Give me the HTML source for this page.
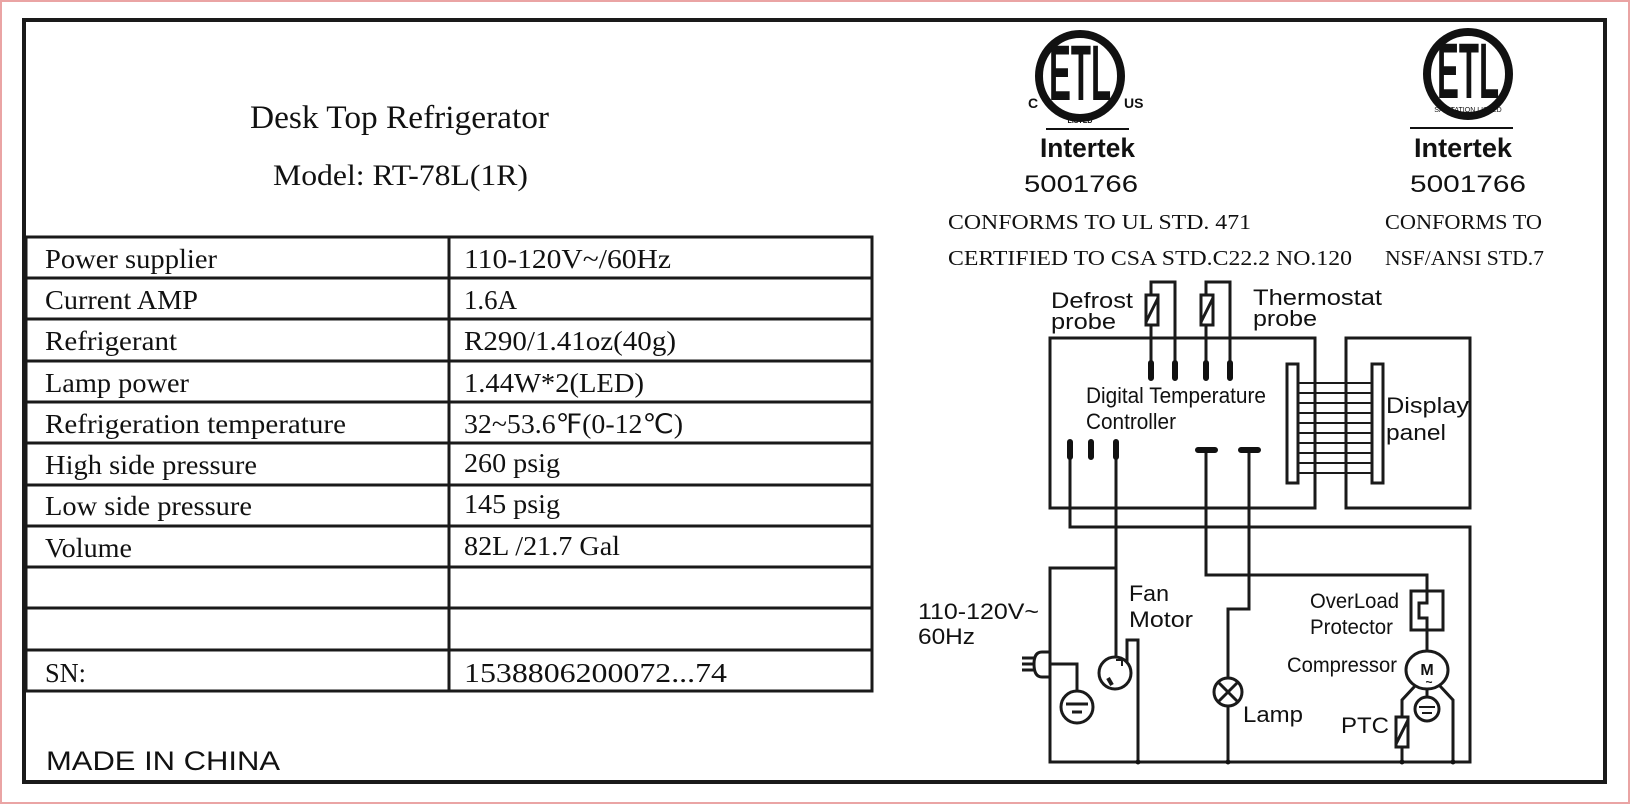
<!DOCTYPE html>
<html><head><meta charset="utf-8"><style>
html,body{margin:0;padding:0;background:#fff;}
svg{display:block;}
.s{font-family:"Liberation Serif",serif;fill:#111;}
.a{font-family:"Liberation Sans",sans-serif;fill:#111;}
</style></head><body>
<svg width="1630" height="804" viewBox="0 0 1630 804" xmlns="http://www.w3.org/2000/svg">
<rect x="1" y="1" width="1628" height="802" fill="#fff" stroke="#eaa4a4" stroke-width="2"/>
<rect x="24" y="20" width="1581" height="762" fill="none" stroke="#1a1a1a" stroke-width="4"/>

<text class="s" x="250" y="128" font-size="33" textLength="299" lengthAdjust="spacingAndGlyphs">Desk Top Refrigerator</text>
<text class="s" x="273" y="185" font-size="30" textLength="255" lengthAdjust="spacingAndGlyphs">Model: RT-78L(1R)</text>

<g stroke="#1a1a1a" stroke-width="3" fill="none">
<rect x="26" y="237" width="846" height="454"/>
<line x1="449" y1="237" x2="449" y2="691"/>
<line x1="26" y1="278" x2="872" y2="278"/>
<line x1="26" y1="319" x2="872" y2="319"/>
<line x1="26" y1="361" x2="872" y2="361"/>
<line x1="26" y1="402" x2="872" y2="402"/>
<line x1="26" y1="443" x2="872" y2="443"/>
<line x1="26" y1="485" x2="872" y2="485"/>
<line x1="26" y1="526" x2="872" y2="526"/>
<line x1="26" y1="567" x2="872" y2="567"/>
<line x1="26" y1="608" x2="872" y2="608"/>
<line x1="26" y1="650" x2="872" y2="650"/>
</g>
<g class="s" font-size="27">
<text x="45" y="268" textLength="172" lengthAdjust="spacingAndGlyphs">Power supplier</text>
<text x="464" y="268" textLength="207" lengthAdjust="spacingAndGlyphs">110-120V~/60Hz</text>
<text x="45" y="309" textLength="153" lengthAdjust="spacingAndGlyphs">Current AMP</text>
<text x="464" y="309" textLength="53" lengthAdjust="spacingAndGlyphs">1.6A</text>
<text x="45" y="350" textLength="132" lengthAdjust="spacingAndGlyphs">Refrigerant</text>
<text x="464" y="350" textLength="212" lengthAdjust="spacingAndGlyphs">R290/1.41oz(40g)</text>
<text x="45" y="392" textLength="144" lengthAdjust="spacingAndGlyphs">Lamp power</text>
<text x="464" y="392" textLength="180" lengthAdjust="spacingAndGlyphs">1.44W*2(LED)</text>
<text x="45" y="433" textLength="301" lengthAdjust="spacingAndGlyphs">Refrigeration temperature</text>
<text x="464" y="433" textLength="219" lengthAdjust="spacingAndGlyphs">32~53.6℉(0-12℃)</text>
<text x="45" y="474" textLength="212" lengthAdjust="spacingAndGlyphs">High side pressure</text>
<text x="464" y="472" textLength="96" lengthAdjust="spacingAndGlyphs">260 psig</text>
<text x="45" y="515" textLength="207" lengthAdjust="spacingAndGlyphs">Low side pressure</text>
<text x="464" y="513" textLength="96" lengthAdjust="spacingAndGlyphs">145 psig</text>
<text x="45" y="557" textLength="87" lengthAdjust="spacingAndGlyphs">Volume</text>
<text x="464" y="555" textLength="156" lengthAdjust="spacingAndGlyphs">82L /21.7 Gal</text>
<text x="45" y="682" textLength="41" lengthAdjust="spacingAndGlyphs">SN:</text>
<text x="464" y="682" textLength="263" lengthAdjust="spacingAndGlyphs">1538806200072...74</text>
</g>
<text class="a" x="46" y="770" font-size="27" textLength="234" lengthAdjust="spacingAndGlyphs">MADE IN CHINA</text>

<!-- Logo 1 -->
<g>
<ellipse cx="1080" cy="76" rx="41" ry="42" fill="none" stroke="#111" stroke-width="8"/>
<text x="1080" y="100" text-anchor="middle" font-family="Liberation Sans" font-weight="bold" font-size="44" fill="#111" transform="matrix(1 0 0 1.8 0 -80)" textLength="62" lengthAdjust="spacingAndGlyphs">ETL</text>
<text x="1028" y="108" font-family="Liberation Sans" font-weight="bold" font-size="14" fill="#111">C</text>
<text x="1124" y="108" font-family="Liberation Sans" font-weight="bold" font-size="14" fill="#111">US</text>
<text x="1080" y="123" text-anchor="middle" font-family="Liberation Sans" font-weight="bold" font-size="7" fill="#111">LISTED</text>
<line x1="1046" y1="129" x2="1129" y2="129" stroke="#111" stroke-width="2"/>
<text x="1040" y="157" font-family="Liberation Sans" font-weight="bold" font-size="27" fill="#111" textLength="95" lengthAdjust="spacingAndGlyphs">Intertek</text>
<text class="a" x="1024" y="192" font-size="24" textLength="114" lengthAdjust="spacingAndGlyphs">5001766</text>
</g>
<!-- Logo 2 -->
<g>
<ellipse cx="1468" cy="74" rx="41" ry="42" fill="none" stroke="#111" stroke-width="8"/>
<text x="1468" y="98" text-anchor="middle" font-family="Liberation Sans" font-weight="bold" font-size="44" fill="#111" transform="matrix(1 0 0 1.8 0 -78.4)" textLength="62" lengthAdjust="spacingAndGlyphs">ETL</text>
<text x="1468" y="112" text-anchor="middle" font-family="Liberation Sans" font-size="7" fill="#111">SANITATION LISTED</text>
<line x1="1410" y1="128" x2="1513" y2="128" stroke="#111" stroke-width="2"/>
<text x="1414" y="157" font-family="Liberation Sans" font-weight="bold" font-size="27" fill="#111" textLength="98" lengthAdjust="spacingAndGlyphs">Intertek</text>
<text class="a" x="1410" y="192" font-size="24" textLength="116" lengthAdjust="spacingAndGlyphs">5001766</text>
</g>
<g class="s" font-size="21">
<text x="948" y="229" textLength="303" lengthAdjust="spacingAndGlyphs">CONFORMS TO UL STD. 471</text>
<text x="948" y="265" textLength="404" lengthAdjust="spacingAndGlyphs">CERTIFIED TO CSA STD.C22.2 NO.120</text>
<text x="1385" y="229" textLength="157" lengthAdjust="spacingAndGlyphs">CONFORMS TO</text>
<text x="1385" y="265" textLength="159" lengthAdjust="spacingAndGlyphs">NSF/ANSI STD.7</text>
</g>

<g stroke="#1a1a1a" stroke-width="3" fill="none">
<rect x="1050" y="338" width="265" height="170"/>
<rect x="1346" y="338" width="124" height="170"/>
<path d="M1151 362 V282 H1175 V362"/>
<path d="M1206 362 V282 H1230 V362"/>
<rect x="1146" y="295" width="12" height="30" fill="#fff"/>
<line x1="1146" y1="322" x2="1158" y2="298"/>
<rect x="1201" y="295" width="12" height="30" fill="#fff"/>
<line x1="1201" y1="322" x2="1213" y2="298"/>
<rect x="1287" y="364" width="11" height="119" fill="#fff"/>
<rect x="1372" y="364" width="11" height="119" fill="#fff"/>
<path d="M1298 383H1372M1298 393H1372M1298 403H1372M1298 413H1372M1298 423H1372M1298 433H1372M1298 443H1372M1298 453H1372M1298 463H1372M1298 473H1372" stroke-width="2"/>
<path d="M1070 457 V527 H1470 V762 H1050 V568 H1116"/>
<path d="M1116 457 V657"/>
<path d="M1127 662 V640 H1138 V762"/>
<path d="M1050 664 H1077 V691"/>
<path d="M1206 450 V575 H1427 V591"/>
<path d="M1249 450 V609 H1228 V678"/>
<path d="M1228 706 V762"/>
<rect x="1411" y="591" width="32" height="39"/>
<path d="M1427 591 V603 H1419 V618 H1427 V651"/>
<path d="M1415 686 L1402 700 V717 M1402 747 V762"/>
<path d="M1440 686 L1453 700 V762"/>
<rect x="1396" y="717" width="12" height="30"/>
<line x1="1396" y1="744" x2="1408" y2="720"/>
<ellipse cx="1427" cy="670" rx="21" ry="19" fill="#fff"/>
<line x1="1427" y1="689" x2="1427" y2="697"/>
<circle cx="1427" cy="709" r="12"/>
<line x1="1419" y1="707" x2="1435" y2="707" stroke-width="2"/>
<line x1="1422" y1="713" x2="1432" y2="713" stroke-width="2"/>
<circle cx="1228" cy="692" r="14" fill="#fff"/>
<line x1="1218" y1="682" x2="1238" y2="702"/>
<line x1="1238" y1="682" x2="1218" y2="702"/>
<circle cx="1115" cy="673" r="16" fill="#fff"/>
<line x1="1108" y1="678" x2="1112" y2="685" stroke-width="4"/>
<path d="M1116 660 h6 v6" stroke-width="2"/>
<circle cx="1077" cy="707" r="16"/>
<line x1="1066" y1="704" x2="1088" y2="704"/>
<line x1="1072" y1="712" x2="1082" y2="712"/>
<path d="M1050 652 H1042 Q1034 652 1034 664 Q1034 677 1042 677 H1050" stroke-width="3"/>
<path d="M1022 658 H1034 M1022 664 H1034 M1022 670 H1034"/>
</g>
<g stroke="#111" stroke-width="6" stroke-linecap="round">
<path d="M1151 363V378M1175 363V378M1206 363V378M1230 363V378"/>
<path d="M1070 442V457M1091 442V457M1116 442V457"/>
<path d="M1198 450H1215M1241 450H1258"/>
</g>
<g fill="#111">
<circle cx="1138" cy="762" r="2.5"/><circle cx="1228" cy="762" r="2.5"/>
<circle cx="1402" cy="762" r="2.5"/><circle cx="1453" cy="762" r="2.5"/>
</g>
<text x="1427" y="675" text-anchor="middle" font-family="Liberation Sans" font-weight="bold" font-size="16" fill="#111">M</text>
<text x="1429" y="686" text-anchor="middle" font-family="Liberation Sans" font-weight="bold" font-size="12" fill="#111">~</text>

<g class="a" font-size="22">
<text x="1051" y="308" textLength="82" lengthAdjust="spacingAndGlyphs">Defrost</text>
<text x="1051" y="329" textLength="65" lengthAdjust="spacingAndGlyphs">probe</text>
<text x="1253" y="305" textLength="129" lengthAdjust="spacingAndGlyphs">Thermostat</text>
<text x="1253" y="326" textLength="64" lengthAdjust="spacingAndGlyphs">probe</text>
<text x="1086" y="403" textLength="180" lengthAdjust="spacingAndGlyphs">Digital Temperature</text>
<text x="1086" y="429" textLength="90" lengthAdjust="spacingAndGlyphs">Controller</text>
<text x="1386" y="413" textLength="83" lengthAdjust="spacingAndGlyphs">Display</text>
<text x="1386" y="440" textLength="60" lengthAdjust="spacingAndGlyphs">panel</text>
<text x="1129" y="601" textLength="40" lengthAdjust="spacingAndGlyphs">Fan</text>
<text x="1129" y="627" textLength="64" lengthAdjust="spacingAndGlyphs">Motor</text>
<text x="918" y="619" textLength="121" lengthAdjust="spacingAndGlyphs">110-120V~</text>
<text x="918" y="644" textLength="57" lengthAdjust="spacingAndGlyphs">60Hz</text>
<text x="1243" y="722" textLength="60" lengthAdjust="spacingAndGlyphs">Lamp</text>
<text x="1310" y="608" font-size="21" textLength="89" lengthAdjust="spacingAndGlyphs">OverLoad</text>
<text x="1310" y="634" font-size="21" textLength="83" lengthAdjust="spacingAndGlyphs">Protector</text>
<text x="1287" y="672" font-size="21" textLength="110" lengthAdjust="spacingAndGlyphs">Compressor</text>
<text x="1341" y="733" textLength="48" lengthAdjust="spacingAndGlyphs">PTC</text>
</g>
</svg>
</body></html>
